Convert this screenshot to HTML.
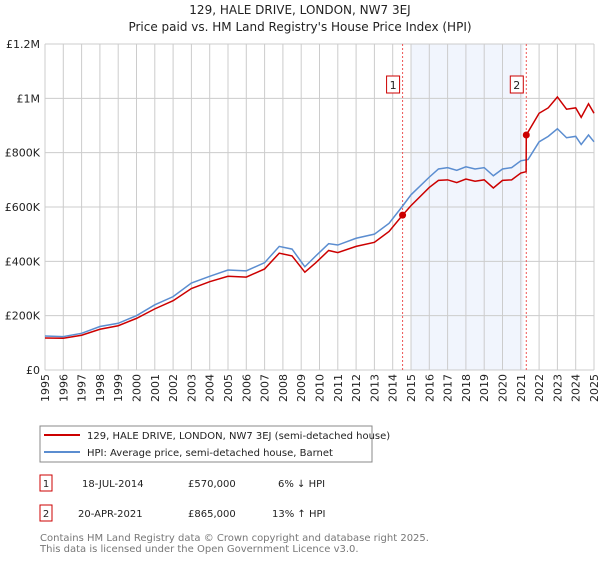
<!DOCTYPE html>
<html><head><meta charset="utf-8"><style>
body{margin:0;background:#fff;font-family:"Liberation Sans","DejaVu Sans",sans-serif;}
svg text{font-family:"DejaVu Sans","Liberation Sans",sans-serif;}
</style></head><body>
<svg id="chart" width="600" height="560" viewBox="0 0 600 560" xmlns="http://www.w3.org/2000/svg">
<text x="300" y="14" text-anchor="middle" font-size="12" fill="#222">129, HALE DRIVE, LONDON, NW7 3EJ</text>
<text x="300" y="31" text-anchor="middle" font-size="12" fill="#222">Price paid vs. HM Land Registry's House Price Index (HPI)</text>
<g id="grid"></g>
<g id="marks"></g>
<g id="lines"></g>
<g id="legend">
<rect x="40" y="426" width="332" height="36" fill="#fff" stroke="#888"/>
<line x1="44" y1="435" x2="80" y2="435" stroke="#cc0000" stroke-width="2"/>
<text x="87" y="439" font-size="10" fill="#222">129, HALE DRIVE, LONDON, NW7 3EJ (semi-detached house)</text>
<line x1="44" y1="452" x2="80" y2="452" stroke="#5b8dd0" stroke-width="2"/>
<text x="87" y="456" font-size="10" fill="#222">HPI: Average price, semi-detached house, Barnet</text>
</g>
<g>
<rect x="40" y="475" width="12" height="16" fill="#fff" stroke="#c00"/>
<text x="46" y="487" text-anchor="middle" font-size="10" fill="#222">1</text>
<text x="82" y="487" font-size="10" fill="#222">18-JUL-2014</text>
<text x="188" y="487" font-size="10" fill="#222">£570,000</text>
<text x="278" y="487" font-size="10" fill="#222">6% ↓ HPI</text>
<rect x="40" y="505" width="12" height="16" fill="#fff" stroke="#c00"/>
<text x="46" y="517" text-anchor="middle" font-size="10" fill="#222">2</text>
<text x="78" y="517" font-size="10" fill="#222">20-APR-2021</text>
<text x="188" y="517" font-size="10" fill="#222">£865,000</text>
<text x="272" y="517" font-size="10" fill="#222">13% ↑ HPI</text>
</g>
<text x="40" y="541" font-size="10" fill="#777">Contains HM Land Registry data © Crown copyright and database right 2025.</text>
<text x="40" y="552" font-size="10" fill="#777">This data is licensed under the Open Government Licence v3.0.</text>
</svg>
<script>
const yTicks=[0,200000,400000,600000,800000,1000000,1200000];
const yTickLabels=["£0","£200K","£400K","£600K","£800K","£1M","£1.2M"];
const years=[1995,1996,1997,1998,1999,2000,2001,2002,2003,2004,2005,2006,2007,2008,2009,2010,2011,2012,2013,2014,2015,2016,2017,2018,2019,2020,2021,2022,2023,2024,2025];
const hpiDates=[1995,1996,1997,1998,1999,2000,2001,2002,2003,2004,2005,2006,2007,2007.8,2008.5,2009.2,2009.8,2010.5,2011,2012,2013,2013.8,2014.5,2015,2016,2016.5,2017,2017.5,2018,2018.5,2019,2019.5,2020,2020.5,2021,2021.4,2022,2022.5,2023,2023.5,2024,2024.3,2024.7,2025];
const hpiValues=[125000,123000,135000,160000,172000,200000,240000,270000,320000,345000,368000,365000,395000,455000,445000,380000,420000,465000,460000,485000,500000,540000,600000,645000,710000,740000,745000,735000,748000,740000,745000,715000,740000,745000,770000,775000,840000,860000,888000,855000,860000,830000,865000,840000];
const propDates=[1995,1996,1997,1998,1999,2000,2001,2002,2003,2004,2005,2006,2007,2007.8,2008.5,2009.2,2009.8,2010.5,2011,2012,2013,2013.8,2014.54,2015,2016,2016.5,2017,2017.5,2018,2018.5,2019,2019.5,2020,2020.5,2021,2021.29,2021.3,2022,2022.5,2023,2023.5,2024,2024.3,2024.7,2025];
const propValues=[118000,117000,128000,150000,163000,190000,225000,255000,300000,325000,345000,342000,372000,430000,420000,360000,395000,440000,432000,455000,470000,510000,570000,605000,672000,698000,700000,690000,703000,695000,700000,670000,698000,700000,725000,730000,865000,945000,965000,1005000,960000,965000,930000,980000,945000];
const saleDates=[2014.54,2021.3];
const saleValues=[570000,865000];
const saleLabels=["1","2"];
const shadeRange=[2015,2021.15];
const NS="http://www.w3.org/2000/svg";
const L=45,R=594,T=44,B=370;
const x=d=>L+(d-1995)/30*(R-L);
const y=v=>B-v/1200000*(B-T);
function mk(tag,attrs,parent){const e=document.createElementNS(NS,tag);for(const k in attrs)e.setAttribute(k,attrs[k]);parent.appendChild(e);return e;}
const grid=document.getElementById('grid'),marks=document.getElementById('marks'),lines=document.getElementById('lines');
const sh=mk('rect',{x:x(shadeRange[0]),y:T,width:x(shadeRange[1])-x(shadeRange[0]),height:B-T,fill:'#eef3fc',opacity:0.8},grid);


years.forEach(yr=>{
 const l=mk('line',{x1:x(yr),x2:x(yr),y1:T,y2:B,stroke:'#ccc','stroke-width':1},grid);
 
 
 const tx=x(yr)+4,ty=B+4;
 const t=mk('text',{x:tx,y:ty,'text-anchor':'end','font-size':11,fill:'#222',transform:'rotate(-90 '+tx+' '+ty+')'},grid);t.textContent=yr;
 
 
});
yTicks.forEach((v,i)=>{
 const l=mk('line',{x1:L,x2:R,y1:y(v),y2:y(v),stroke:'#ccc','stroke-width':1},grid);
 
 
 const t=mk('text',{x:L-5,y:y(v)+4,'text-anchor':'end','font-size':11,fill:'#222'},grid);t.textContent=yTickLabels[i];
 
 
});
saleDates.forEach((d,i)=>{
 const l=mk('line',{x1:x(d),x2:x(d),y1:T,y2:B,stroke:'#e55','stroke-width':1,'stroke-dasharray':'2,2'},marks);
 
 
 const r=mk('rect',{x:x(d)-16,y:76,width:13,height:17,fill:'#fff',stroke:'#c00'},marks);
 
 
 const t=mk('text',{x:x(d)-9.5,y:89,'text-anchor':'middle','font-size':11,fill:'#222'},marks);t.textContent=saleLabels[i];
 
 
});
const hp=mk('polyline',{points:hpiDates.map((d,i)=>x(d)+','+y(hpiValues[i])).join(' '),fill:'none',stroke:'#5b8dd0','stroke-width':1.5},lines);


const pp=mk('polyline',{points:propDates.map((d,i)=>x(d)+','+y(propValues[i])).join(' '),fill:'none',stroke:'#cc0000','stroke-width':1.5},lines);


saleDates.forEach((d,i)=>{
 const c=mk('circle',{cx:x(d),cy:y(saleValues[i]),r:3.5,fill:'#cc0000'},lines);
 
 
});
</script>
</body></html>
